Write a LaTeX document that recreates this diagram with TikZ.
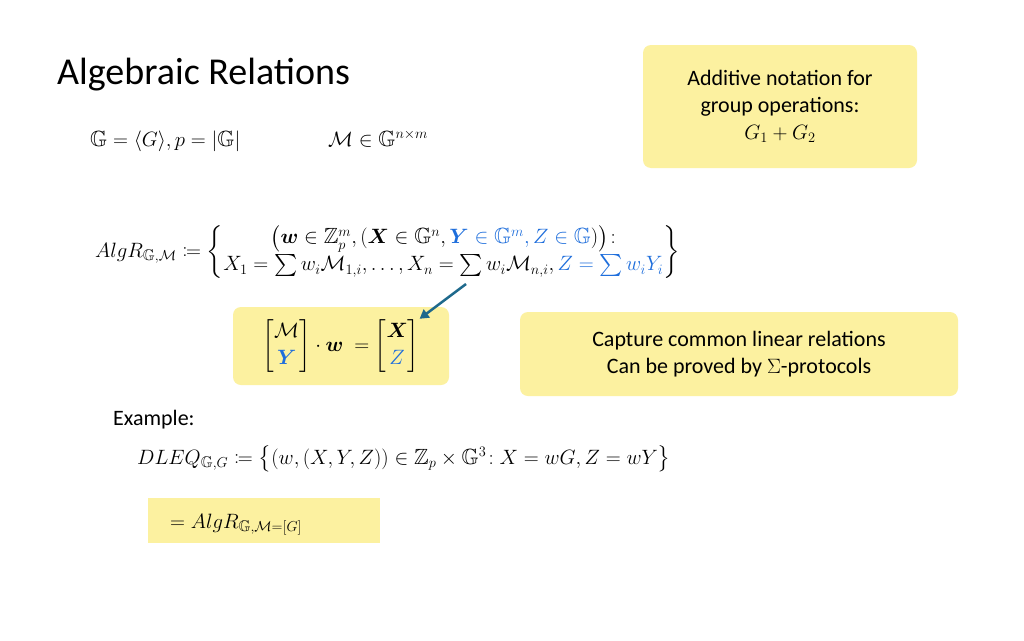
\documentclass[tikz,border=0pt]{standalone}
\usepackage{amsmath,amssymb,bm,mathtools}
\usepackage{fontspec}
\setmainfont{Carlito}
\usetikzlibrary{arrows.meta}
\definecolor{yel}{RGB}{252,241,160}
\definecolor{mblue}{RGB}{30,110,220}
\definecolor{teal2}{RGB}{30,105,140}
\tikzset{ybox/.style={fill=yel,rounded corners=8pt,draw=none},
 txt/.style={inner sep=0pt,font=\fontsize{22}{27}\selectfont}}
\begin{document}
\begin{tikzpicture}[x=1pt,y=-1pt]
\useasboundingbox (0,0) rectangle (1024,640);
\fill[white] (0,0) rectangle (1024,640);
\node[txt,anchor=base west,font=\fontsize{38}{44}\selectfont] (title) at (57,84) {Algebraic Relations};
\draw[ybox] (643,45) rectangle (917,168);
\node[txt,align=center] (add) at (780,106) {Additive notation for\\group operations:\\$G_1+G_2$};
\node[txt,anchor=base west] (g) at (90,146) {$\mathbb{G}=\langle G\rangle, p=|\mathbb{G}|$};
\node[txt,anchor=base west] (m) at (328,146) {$\mathcal{M}\in\mathbb{G}^{n\times m}$};
\node[txt,anchor=west] (alg) at (95,252) {$AlgR_{\mathbb{G},\mathcal{M}}\coloneqq
\left\{\begin{matrix}\big(\bm{w}\in\mathbb{Z}_p^m,(\bm{X}\in\mathbb{G}^n,\color{mblue}\bm{Y}\in\mathbb{G}^m,Z\in\mathbb{G}\color{black})\big)\!:\\
X_1=\sum w_i\mathcal{M}_{1,i},\ldots,X_n=\sum w_i\mathcal{M}_{n,i},\color{mblue}Z=\sum w_iY_i\end{matrix}\right\}$};
\draw[ybox] (233,307) rectangle (449,385);
\node[txt] (mat) at (341,346) {$\begin{bmatrix}\mathcal{M}\\ \color{mblue}\bm{Y}\end{bmatrix}\cdot\bm{w}\ =\begin{bmatrix}\bm{X}\\ \color{mblue}Z\end{bmatrix}$};
\coordinate (as) at (466,284);
\draw[teal2,line width=2.5pt,-{Triangle[length=9pt,width=10pt]}] (as) -- (mat.north east);
\draw[ybox] (520,312) rectangle (958,396);
\node[txt,align=center] (cap) at (739,354) {Capture common linear relations\\Can be proved by $\Sigma$-protocols};
\node[txt,anchor=base west] (ex) at (113,425) {Example:};
\node[txt,anchor=base west] (dleq) at (137,464) {$DLEQ_{\mathbb{G},G}\coloneqq\big\{(w,(X,Y,Z))\in\mathbb{Z}_p\times\mathbb{G}^3\!: X=wG, Z=wY\big\}$};
\fill[yel] (148,498) rectangle (380,543);
\node[txt,anchor=base west] (eq) at (170,528) {$=AlgR_{\mathbb{G},\mathcal{M}=[G]}$};
\end{tikzpicture}
\end{document}
